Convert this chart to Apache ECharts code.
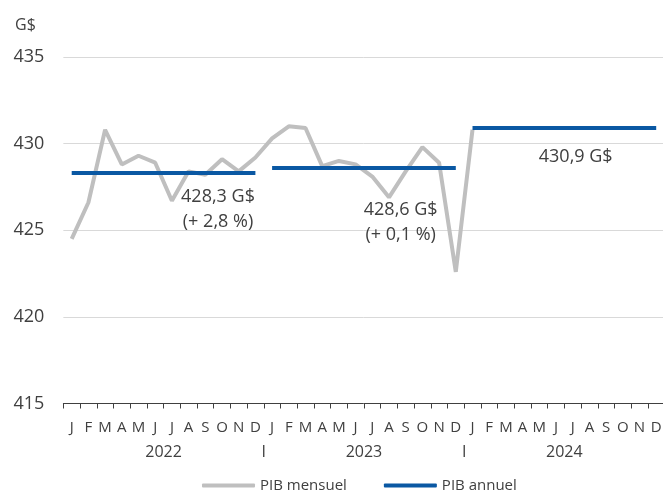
<!DOCTYPE html>
<html>
<head>
<meta charset="utf-8">
<script src="https://cdn.jsdelivr.net/npm/echarts@6/dist/echarts.min.js"></script>
<style>
  html, body { margin: 0; padding: 0; background: #fff; }
  #chart { width: 663px; height: 494px; }
</style>
</head>
<body>
<div id="chart"></div>
<script>
// month initials, repeated for each year
var months = ['J', 'F', 'M', 'A', 'M', 'J', 'J', 'A', 'S', 'O', 'N', 'D'];
var categories = months.concat(months, months);
// second row under the months: years and separators (one entry every 6 months)
var yearRow = ['', '2022', 'I', '2023', 'I', '2024', ''];

// PIB mensuel, janv. 2022 -> janv. 2024 (G$)
var monthlyGdp = [
  424.5, 426.6, 430.8, 428.8, 429.3, 428.9, 426.7, 428.4, 428.2, 429.1, 428.4, 429.2,
  430.3, 431.0, 430.9, 428.7, 429.0, 428.8, 428.1, 426.9, 428.4, 429.8, 428.9, 422.6,
  430.8
];
// PIB annuel by year
var annualGdp = [428.3, 428.6, 430.9];
var annualText = ['428,3 G$\n(+ 2,8 %)', '428,6 G$\n(+ 0,1 %)', '430,9 G$'];

var yMin = 415, yMax = 435, yStep = 5;

var textColor = '#404040';
var font = 'Open Sans';

// where each annual label hangs: month in the year, shift x, gap below line
var labelPlace = [
  { month: 9, dx: -4, gap: 11 },
  { month: 8, dx: -5, gap: 29 },
  { month: 6, dx: 3, gap: 16 }
];

var annualSeries = annualGdp.map(function (v, y) {
  var data = categories.map(function () { return null; });
  for (var m = 0; m < 12; m++) {
    data[y * 12 + m] = v;
  }
  var p = labelPlace[y];
  data[y * 12 + p.month] = {
    value: v,
    label: {
      show: true,
      position: 'bottom',
      distance: p.gap,
      offset: [p.dx, 0],
      formatter: annualText[y],
      fontFamily: font,
      fontSize: 18,
      lineHeight: 25,
      color: textColor,
      align: 'center'
    }
  };
  return {
    name: 'PIB annuel',
    type: 'line',
    data: data,
    showSymbol: true,
    symbolSize: 0,
    lineStyle: { color: '#0a58a3', width: 4 },
    itemStyle: { color: '#0a58a3' },
    z: 3
  };
});

var myChart = echarts.init(document.getElementById('chart'));
var option = {
  animation: false,
  textStyle: { fontFamily: font },
  title: {
    text: 'G$',
    left: 15,
    top: 17,
    padding: 0,
    textStyle: { fontFamily: font, fontSize: 16, fontWeight: 'normal', color: textColor }
  },
  legend: {
    data: ['PIB mensuel', 'PIB annuel'],
    left: 202,
    top: 478,
    padding: 0,
    icon: 'roundRect',
    itemWidth: 53,
    itemHeight: 4,
    itemGap: 37,
    textStyle: { fontFamily: font, fontSize: 15, color: textColor }
  },
  // axis runs slightly past the right edge in the original
  grid: { left: 63.35, width: 601.2, top: 57, height: 346.5, outerBoundsMode: 'none', containLabel: false },
  xAxis: [
    {
      type: 'category',
      data: categories,
      boundaryGap: true,
      axisLine: { lineStyle: { color: textColor, width: 1 } },
      axisTick: { show: true, length: 5, interval: 0, lineStyle: { color: textColor } },
      axisLabel: { interval: 0, margin: 17, fontFamily: font, fontSize: 15, color: textColor }
    },
    {
      type: 'value',
      position: 'bottom',
      min: 0,
      max: 36,
      interval: 6,
      axisLine: { show: false },
      axisTick: { show: false },
      splitLine: { show: false },
      axisLabel: {
        margin: 41,
        fontFamily: font,
        fontSize: 16,
        color: textColor,
        formatter: function (v) { return yearRow[v / 6] || ''; }
      }
    }
  ],
  yAxis: {
    type: 'value',
    min: yMin,
    max: yMax,
    interval: yStep,
    axisLine: { show: false },
    axisTick: { show: false },
    axisLabel: { margin: 19, fontFamily: font, fontSize: 18, color: textColor },
    splitLine: { lineStyle: { color: '#d9d9d9', width: 1 } }
  },
  series: [
    {
      name: 'PIB mensuel',
      type: 'line',
      data: monthlyGdp,
      showSymbol: false,
      lineStyle: { color: '#bfbfbf', width: 4 },
      itemStyle: { color: '#bfbfbf' },
      z: 2
    }
  ].concat(annualSeries)
};
option && myChart.setOption(option);
</script>
</body>
</html>
